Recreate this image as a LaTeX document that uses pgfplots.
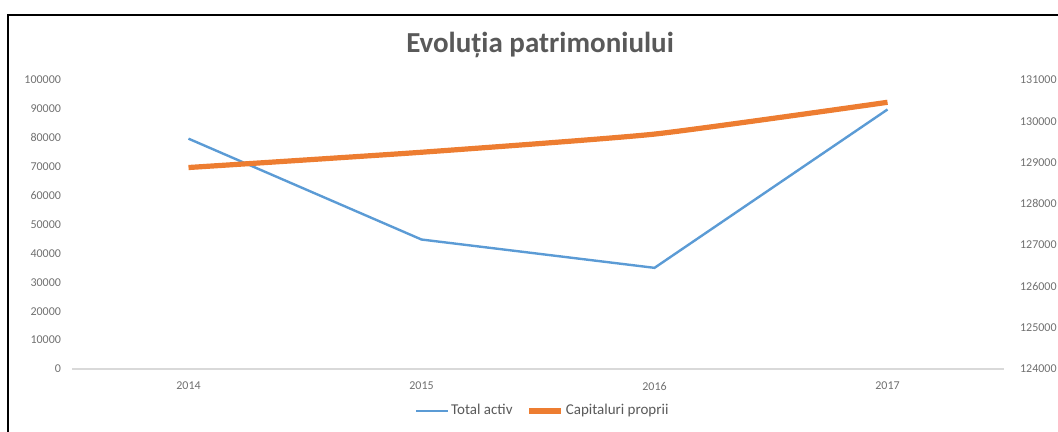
\documentclass[border=0pt]{standalone}
\usepackage{pgfplots}
\pgfplotsset{compat=1.18}
\usepackage{fontspec}
\setmainfont{Carlito}
\definecolor{cblue}{HTML}{5B9BD5}
\definecolor{corange}{HTML}{ED7D31}
\definecolor{tgray}{HTML}{595959}
\definecolor{lgray}{HTML}{707070}
\definecolor{agray}{HTML}{D9D9D9}
\begin{document}
\begin{tikzpicture}
\path[use as bounding box] (0,0) rectangle (529pt,216pt);
\draw[black, line width=0.6pt] (4pt,-5pt) -- (4pt,208.5pt) -- (540pt,208.5pt);
\node[text=tgray, font=\fontsize{14.5}{16}\selectfont\bfseries] at (270pt,193.5pt) {Evoluția patrimoniului};
\begin{axis}[
  at={(36pt,31.5pt)}, anchor=south west,
  scale only axis, width=466pt, height=144.5pt,
  xmin=-0.5, xmax=3.5, ymin=0, ymax=100000,
  xtick={0,1,2,3}, xticklabels={2014,2015,2016,2017},
  ytick={0,10000,...,100000},
  scaled y ticks=false,
  /pgf/number format/fixed,
  /pgf/number format/set thousands separator={},
  /pgf/number format/assume math mode=true,
  axis y line*=left, axis x line*=bottom,
  y axis line style={draw=none},
  x axis line style={draw=agray, line width=0.6pt},
  tick style={draw=none},
  ticklabel style={font=\fontsize{6}{7}\selectfont, text=lgray},
  xticklabel style={yshift=-3pt},
  yticklabel style={xshift=-2pt},
  legend style={at={(0.505,-0.145)}, anchor=center, draw=none, fill=none,
    legend columns=2, font=\fontsize{7.5}{9}\selectfont, text=tgray,
    /tikz/every even column/.append style={column sep=6pt},
    nodes={inner xsep=1pt}},
  legend image code/.code={\draw[#1] (0pt,0pt) -- (16pt,0pt);},
  clip=false,
]
\addplot[cblue, line width=1.2pt] coordinates {(0,79700) (1,44800) (2,35000) (3,89800)};
\addlegendentry{Total activ}
\addlegendimage{corange, line width=2.6pt}
\addlegendentry{Capitaluri proprii}
\end{axis}
\begin{axis}[
  at={(36pt,31.5pt)}, anchor=south west,
  scale only axis, width=466pt, height=144.5pt,
  xmin=-0.5, xmax=3.5, ymin=124000, ymax=131000,
  ytick={124000,125000,...,131000},
  scaled y ticks=false,
  /pgf/number format/fixed,
  /pgf/number format/set thousands separator={},
  /pgf/number format/assume math mode=true,
  axis y line*=right, axis x line=none,
  y axis line style={draw=none},
  tick style={draw=none},
  ticklabel style={font=\fontsize{6}{7}\selectfont, text=lgray},
  yticklabel style={xshift=4.5pt},
  clip=false,
]
\addplot[corange, line width=2.6pt, smooth, tension=0.3] coordinates {(0,128880) (1,129250) (2,129690) (3,130460)};
\end{axis}
\end{tikzpicture}
\end{document}
